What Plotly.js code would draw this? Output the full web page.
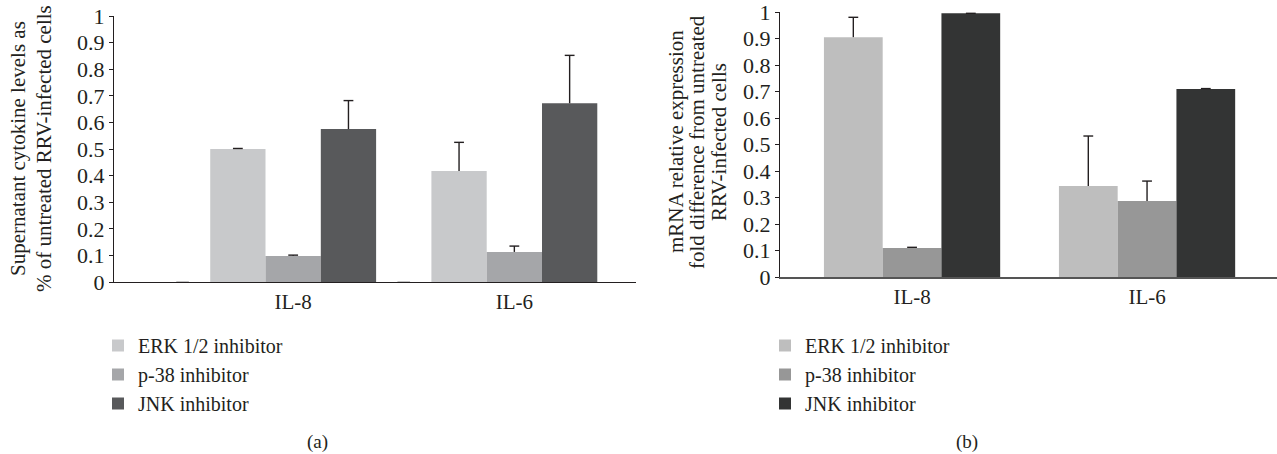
<!DOCTYPE html>
<html><head><meta charset="utf-8">
<script src="https://cdn.plot.ly/plotly-3.0.1.min.js"></script>
<style>html,body{margin:0;padding:0;background:#fff;} #chart{width:1277px;height:454px;}</style>
</head><body><div id="chart"></div>
<script>
// ---------- data ----------
const categories = ['IL-8', 'IL-6'];
const seriesNames = ['ERK 1/2 inhibitor', 'p-38 inhibitor', 'JNK inhibitor'];

// Panel (a): supernatant cytokine levels
const supernatantERK = [0.500, 0.417];
const supernatantERKErr = [0.002, 0.108];
const supernatantP38 = [0.098, 0.113];
const supernatantP38Err = [0.003, 0.022];
const supernatantJNK = [0.575, 0.672];
const supernatantJNKErr = [0.107, 0.180];
const supernatantZeroMarks = [0, 0];

// Panel (b): mRNA relative expression
const mrnaERK = [0.905, 0.343];
const mrnaERKErr = [0.075, 0.189];
const mrnaP38 = [0.109, 0.287];
const mrnaP38Err = [0.003, 0.075];
const mrnaJNK = [0.995, 0.709];
const mrnaJNKErr = [0.000, 0.002];

const yTickVals = [0, 0.1, 0.2, 0.3, 0.4, 0.5, 0.6, 0.7, 0.8, 0.9, 1];
const yTickText = ['0', '0.1', '0.2', '0.3', '0.4', '0.5', '0.6', '0.7', '0.8', '0.9', '1'];

const titleA = ['Supernatant cytokine levels as', '% of untreated RRV-infected cells'];
const titleB = ['mRNA relative expression', 'fold difference from untreated', 'RRV-infected cells'];

// ---------- styles ----------
const W = 1277, H = 454;
const FONT = 'Liberation Serif';
const TXT = '#231f20';
const colorsA = ['#c8c9cb', '#a5a6a9', '#58595b'];
const colorsB = ['#bebebe', '#979797', '#333434'];
const idx = categories.map((_, i) => i);
const rangeA = [-0.81, 1.55];
const rangeB = [-0.562, 1.553];

function bar(name, y, err, color, xa, ya, leg) {
  return { type: 'bar', name: name, x: idx, y: y,
           error_y: { type: 'data', symmetric: false, array: err, arrayminus: err.map(() => 0),
                      color: TXT, thickness: 1.4, width: 0 },
           marker: { color: color, line: { width: 0 } }, xaxis: xa, yaxis: ya, legend: leg,
           hoverinfo: 'y' };
}
// caps of the (upper-only) error bars, positioned by the library's grouping
function caps(y, err, xa, ya) {
  return { type: 'scatter', mode: 'markers', x: idx, y: y.map((v, i) => v + err[i]),
           marker: { symbol: 'line-ew', size: 7, color: TXT, line: { color: TXT, width: 1.4 } },
           showlegend: false, hoverinfo: 'skip', cliponaxis: false, xaxis: xa, yaxis: ya };
}

const traces = [
  bar(seriesNames[0], supernatantERK, supernatantERKErr, colorsA[0], 'x', 'y', 'legend'),
  bar(seriesNames[1], supernatantP38, supernatantP38Err, colorsA[1], 'x', 'y', 'legend'),
  bar(seriesNames[2], supernatantJNK, supernatantJNKErr, colorsA[2], 'x', 'y', 'legend'),
  caps(supernatantERK, supernatantERKErr, 'x', 'y'),
  caps(supernatantP38, supernatantP38Err, 'x', 'y'),
  caps(supernatantJNK, supernatantJNKErr, 'x', 'y'),
  { type: 'scatter', mode: 'markers', x: idx.map(i => i - 0.5), y: supernatantZeroMarks,
    marker: { symbol: 'line-ew', size: 9, line: { color: '#b0b0b0', width: 1.5 } },
    showlegend: false, hoverinfo: 'skip', cliponaxis: false, xaxis: 'x3', yaxis: 'y' },
  bar(seriesNames[0], mrnaERK, mrnaERKErr, colorsB[0], 'x2', 'y2', 'legend2'),
  bar(seriesNames[1], mrnaP38, mrnaP38Err, colorsB[1], 'x2', 'y2', 'legend2'),
  bar(seriesNames[2], mrnaJNK, mrnaJNKErr, colorsB[2], 'x2', 'y2', 'legend2'),
  caps(mrnaERK, mrnaERKErr, 'x2', 'y2'),
  caps(mrnaP38, mrnaP38Err, 'x2', 'y2'),
  caps(mrnaJNK, mrnaJNKErr, 'x2', 'y2')
];

function yAxis(top, bottom, anchor) {
  return { domain: [(H - bottom) / H, (H - top) / H], range: [0, 1], anchor: anchor,
           tickvals: yTickVals, ticktext: yTickText, ticks: 'outside', ticklen: 4,
           tickcolor: TXT, tickwidth: 1, showline: true, linecolor: TXT, linewidth: 1,
           ticklabeloverflow: 'allow',
           showgrid: false, zeroline: false, tickfont: { family: FONT, size: 22, color: TXT } };
}
function xAxis(left, right, range, anchor, lc, lw) {
  return { domain: [left / W, right / W], range: range, anchor: anchor,
           tickvals: idx, ticktext: categories, ticks: '', showline: true,
           linecolor: lc, linewidth: lw, showgrid: false, zeroline: false,
           tickfont: { family: FONT, size: 21, color: TXT } };
}
function legendAt(xpx, ypx) {
  return { x: xpx / W, y: (H - ypx) / H, xanchor: 'left', yanchor: 'top',
           font: { family: FONT, size: 20, color: TXT }, bgcolor: 'rgba(0,0,0,0)',
           traceorder: 'normal', tracegroupgap: 0, itemclick: false, itemdoubleclick: false };
}

const annotations = [];
function vText(text, xpx, ypx, size) {
  annotations.push({ text: text, x: xpx / W, y: (H - ypx) / H, xref: 'paper', yref: 'paper',
                     textangle: -90, xanchor: 'center', yanchor: 'middle', showarrow: false,
                     font: { family: FONT, size: size, color: TXT } });
}
vText(titleA[0], 18, 149, 21);
vText(titleA[1], 44, 149, 21);
vText(titleB[0], 676, 142, 21);
vText(titleB[1], 697, 142, 21);
vText(titleB[2], 719, 142, 21);
annotations.push({ text: '(a)', x: 317 / W, y: (H - 442) / H, xref: 'paper', yref: 'paper',
                   showarrow: false, xanchor: 'center', yanchor: 'middle',
                   font: { family: FONT, size: 19, color: TXT } });
annotations.push({ text: '(b)', x: 967 / W, y: (H - 442) / H, xref: 'paper', yref: 'paper',
                   showarrow: false, xanchor: 'center', yanchor: 'middle',
                   font: { family: FONT, size: 19, color: TXT } });

const layout = {
  width: W, height: H, autosize: false,
  margin: { l: 0, r: 0, t: 0, b: 0, pad: 0 },
  paper_bgcolor: '#fff', plot_bgcolor: '#fff',
  barmode: 'group', bargap: 0.25, bargroupgap: 0,
  scattermode: 'group', scattergap: 0.25,
  font: { family: FONT, color: TXT },
  xaxis: xAxis(114, 636, rangeA, 'y', TXT, 1.3),
  yaxis: yAxis(16, 282, 'x'),
  xaxis2: xAxis(780, 1277, rangeB, 'y2', '#555', 1.5),
  yaxis2: yAxis(12, 277, 'x2'),
  xaxis3: { overlaying: 'x', anchor: 'y', range: rangeA, visible: false },
  legend: legendAt(98, 326),
  legend2: legendAt(765, 326),
  annotations: annotations
};

Plotly.newPlot('chart', traces, layout, { staticPlot: true, displayModeBar: false });
</script>
</body></html>
